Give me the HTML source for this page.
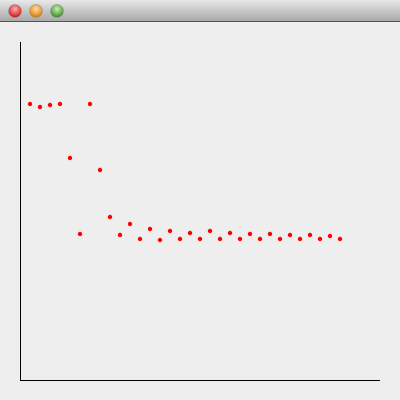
<!DOCTYPE html>
<html><head><meta charset="utf-8"><style>
html,body{margin:0;padding:0;width:400px;height:400px;overflow:hidden;background:#eeeeee;font-family:"Liberation Sans",sans-serif}
</style></head><body>
<svg width="400" height="400">
<defs>
<linearGradient id="tb" x1="0" y1="0" x2="0" y2="1"><stop offset="0" stop-color="#e8e8e8"/><stop offset="1" stop-color="#a8a8a8"/></linearGradient>
<radialGradient id="r" cx="0.5" cy="0.35" r="0.6"><stop offset="0" stop-color="#ffb0b0"/><stop offset="1" stop-color="#d02020"/></radialGradient>
<radialGradient id="o" cx="0.5" cy="0.35" r="0.6"><stop offset="0" stop-color="#ffe0a0"/><stop offset="1" stop-color="#d88010"/></radialGradient>
<radialGradient id="g" cx="0.5" cy="0.35" r="0.6"><stop offset="0" stop-color="#c8f0b0"/><stop offset="1" stop-color="#40902a"/></radialGradient>
</defs>
<rect x="0" y="0" width="400" height="21" fill="url(#tb)"/>
<line x1="0" y1="21.5" x2="400" y2="21.5" stroke="#555"/>
<circle cx="15" cy="11" r="6.5" fill="url(#r)" stroke="#888" stroke-width="0.5"/>
<circle cx="36" cy="11" r="6.5" fill="url(#o)" stroke="#888" stroke-width="0.5"/>
<circle cx="57" cy="11" r="6.5" fill="url(#g)" stroke="#888" stroke-width="0.5"/>
<line x1="20.5" y1="42" x2="20.5" y2="380" stroke="#000"/>
<line x1="20" y1="380.5" x2="380" y2="380.5" stroke="#000"/>
<g id="pts"></g>
</svg>
<script>
const xs = [1,2,3,4,5,6,7,8,9,10,11,12,13,14,15,16,17,18,19,20,21,22,23,24,25,26,27,28,29,30,31,32];
const ys = [276,273,275,276,222,146,276,210,163,145,156,141,151,140,149,141,147,141,149,141,147,141,146,141,146,141,145,141,145,141,144,141];
function sx(v){return 20 + v*10;}
function sy(v){return 380 - v;}
const g=document.getElementById('pts');
for(let i=0;i<xs.length;i++){
  const c=document.createElementNS('http://www.w3.org/2000/svg','circle');
  c.setAttribute('cx',sx(xs[i]));
  c.setAttribute('cy',sy(ys[i]));
  c.setAttribute('r',2.2);
  c.setAttribute('fill','#ff0000');
  
  
  g.appendChild(c);
}
</script>
</body></html>
